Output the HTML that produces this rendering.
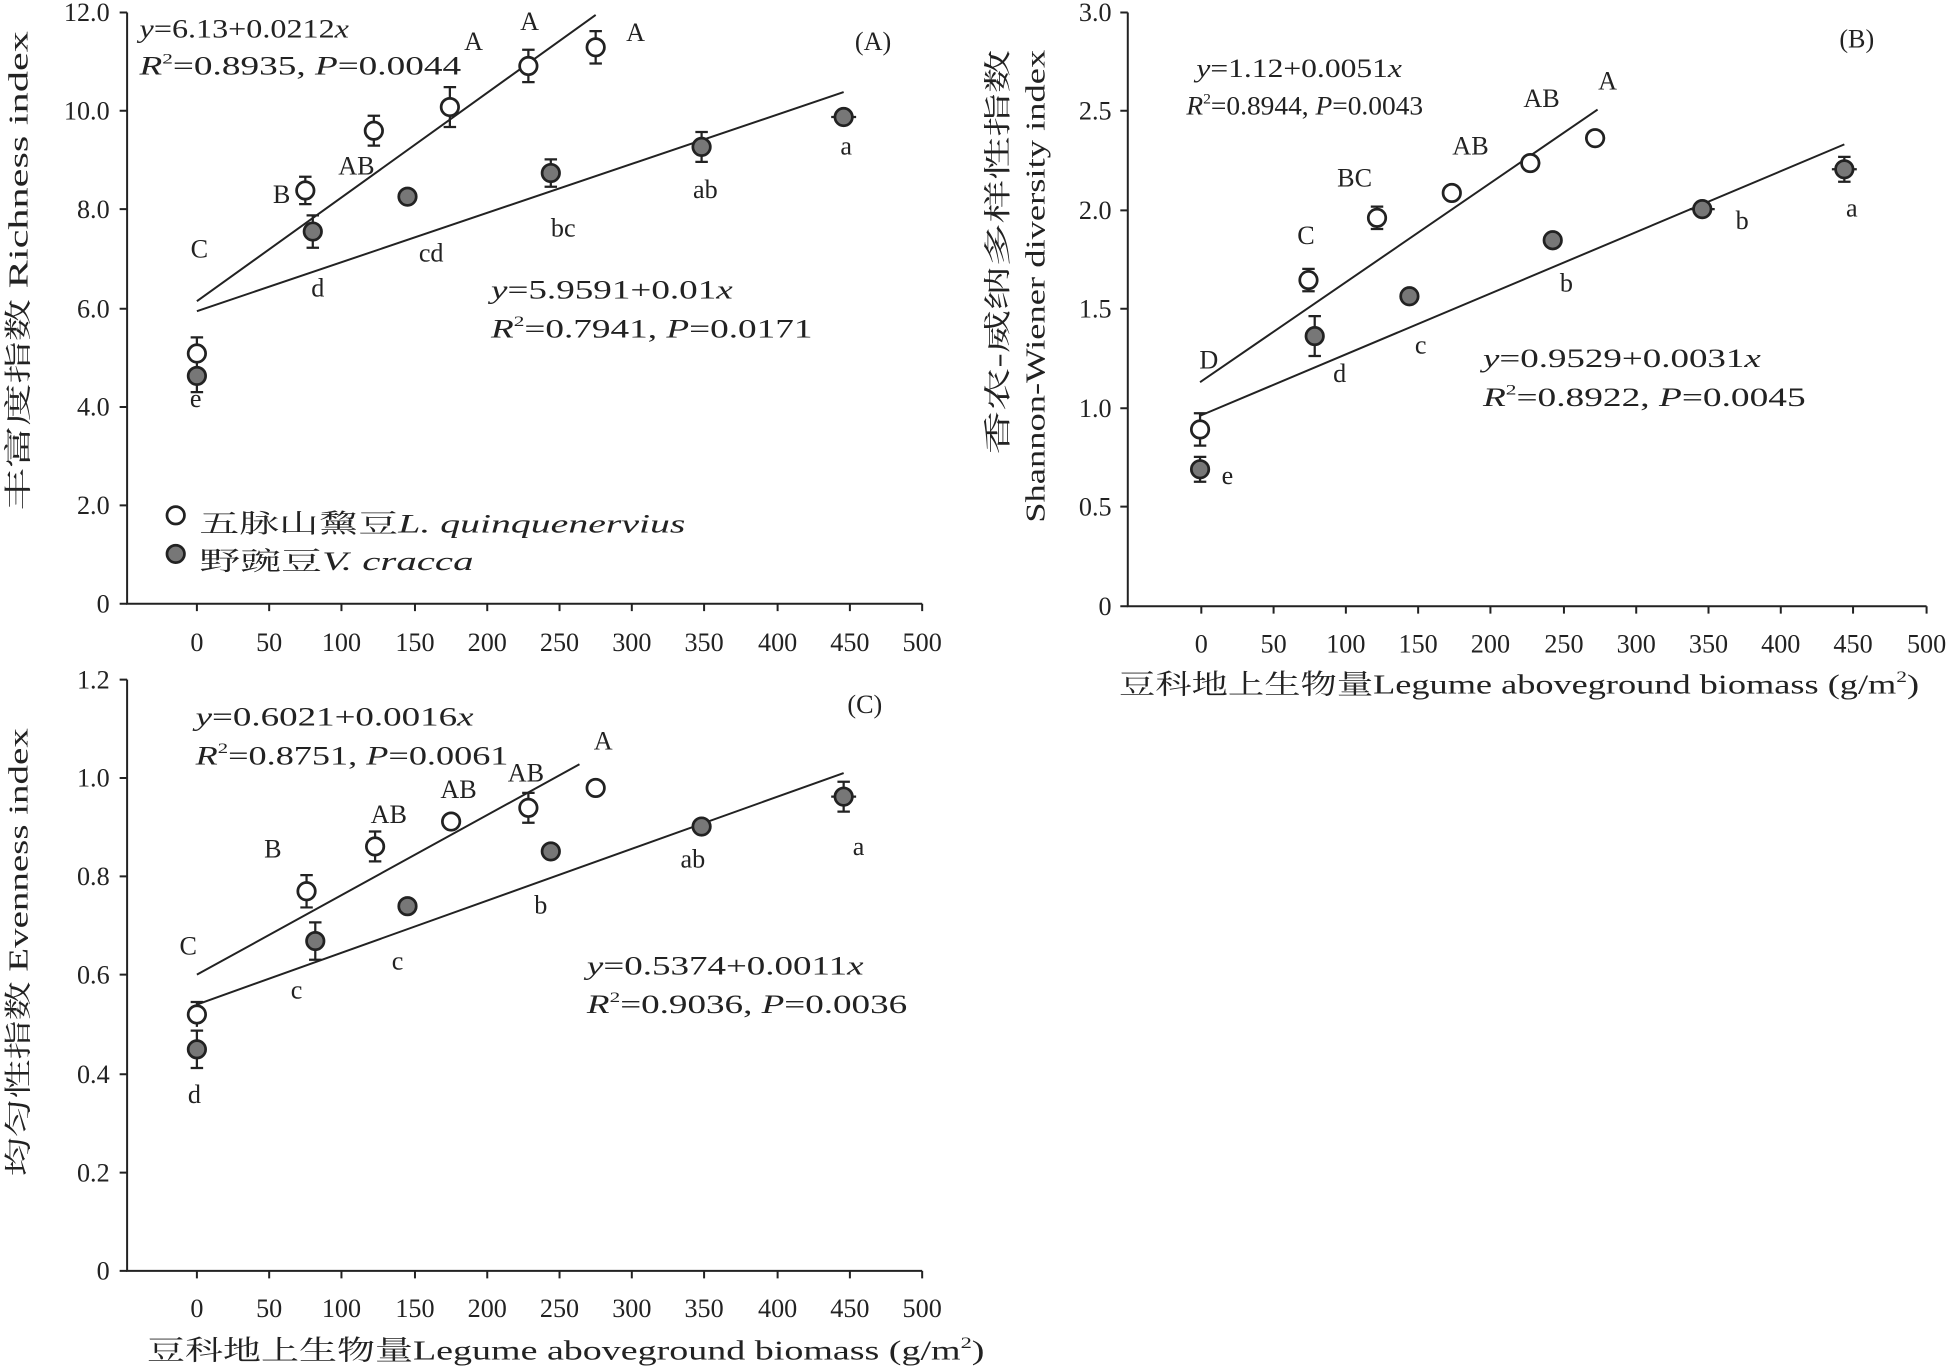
<!DOCTYPE html>
<html><head><meta charset="utf-8"><style>
html,body{margin:0;padding:0;background:#fff}
svg{display:block}
text{font-family:"Liberation Serif","Noto Serif CJK SC",serif;fill:#222}
</style></head><body>
<svg width="1954" height="1368" viewBox="0 0 1568 1099" preserveAspectRatio="none" xmlns="http://www.w3.org/2000/svg">
<defs>
<g id="o"><circle r="7" fill="#fff" stroke="#222" stroke-width="2.2"/></g>
<g id="f"><circle r="7" fill="#777" stroke="#222" stroke-width="2.2"/></g>
</defs>
<g stroke="#222" stroke-width="1.6" fill="none">
<path d="M102,10V485H740"/>
<path d="M96,10H102M96,89H102M96,168H102M96,248H102M96,327H102M96,406H102M96,485H102"/>
<path d="M158,485v6M216,485v6M274,485v6M333,485v6M391,485v6M449,485v6M507,485v6M565,485v6M624,485v6M682,485v6M740,485v6"/>
<path d="M905,10V487H1546"/>
<path d="M899,10H905M899,89H905M899,169H905M899,248H905M899,328H905M899,407H905M899,487H905"/>
<path d="M964,487v6M1022,487v6M1080,487v6M1138,487v6M1196,487v6M1255,487v6M1313,487v6M1371,487v6M1429,487v6M1487,487v6M1546,487v6"/>
<path d="M102,546V1021H740"/>
<path d="M96,546H102M96,625H102M96,704H102M96,783H102M96,863H102M96,942H102M96,1021H102"/>
<path d="M158,1021v6M216,1021v6M274,1021v6M333,1021v6M391,1021v6M449,1021v6M507,1021v6M565,1021v6M624,1021v6M682,1021v6M740,1021v6"/>
<path d="M158,242L478,12M158,250L677,74"/>
<path d="M963,307L1282,88M963,334L1480,116"/>
<path d="M158,783L465,614M158,807L677,621"/>
</g>
<g stroke="#222" stroke-width="1.8" fill="none">
<path d="M158,271v26M153,271h10M153,297h10 M245,142v22M240,142h10M240,164h10 M300,93v24M295,93h10M295,117h10 M361,70v32M356,70h10M356,102h10 M424,40v26M419,40h10M419,66h10 M478,25v26M473,25h10M473,51h10 M158,289v26M153,289h10M153,315h10 M251,173v26M246,173h10M246,199h10 M442,128v22M437,128h10M437,150h10 M563,106v24M558,106h10M558,130h10 M667,94h20"/>
<path d="M963,332v26M958,332h10M958,358h10 M1050,216v18M1045,216h10M1045,234h10 M1105,166v18M1100,166h10M1100,184h10 M1220,131h16 M1272,111h16 M963,367v20M958,367h10M958,387h10 M1055,254v32M1050,254h10M1050,286h10 M1356,168h20 M1480,126v20M1475,126h10M1475,146h10M1470,136h20"/>
<path d="M158,805v20M153,805h10 M246,703v26M241,703h10M241,729h10 M301,668v24M296,668h10M296,692h10 M424,637v24M419,637h10M419,661h10 M158,828v30M153,828h10M153,858h10 M253,741v30M248,741h10M248,771h10 M677,628v24M672,628h10M672,652h10M667,640h20"/>
</g>
<g>
<use href="#o" x="158" y="284"/><use href="#o" x="245" y="153"/><use href="#o" x="300" y="105"/><use href="#o" x="361" y="86"/><use href="#o" x="424" y="53"/><use href="#o" x="478" y="38"/>
<use href="#f" x="158" y="302"/><use href="#f" x="251" y="186"/><use href="#f" x="327" y="158"/><use href="#f" x="442" y="139"/><use href="#f" x="563" y="118"/><use href="#f" x="677" y="94"/>
<use href="#o" x="963" y="345"/><use href="#o" x="1050" y="225"/><use href="#o" x="1105" y="175"/><use href="#o" x="1165" y="155"/><use href="#o" x="1228" y="131"/><use href="#o" x="1280" y="111"/>
<use href="#f" x="963" y="377"/><use href="#f" x="1055" y="270"/><use href="#f" x="1131" y="238"/><use href="#f" x="1246" y="193"/><use href="#f" x="1366" y="168"/><use href="#f" x="1480" y="136"/>
<use href="#o" x="158" y="815"/><use href="#o" x="246" y="716"/><use href="#o" x="301" y="680"/><use href="#o" x="362" y="660"/><use href="#o" x="424" y="649"/><use href="#o" x="478" y="633"/>
<use href="#f" x="158" y="843"/><use href="#f" x="253" y="756"/><use href="#f" x="327" y="728"/><use href="#f" x="442" y="684"/><use href="#f" x="563" y="664"/><use href="#f" x="677" y="640"/>
<use href="#o" x="141" y="414"/><use href="#f" x="141" y="445"/>
</g>
<g font-size="21">
<g text-anchor="end"><text x="88" y="17">12.0</text><text x="88" y="96">10.0</text><text x="88" y="175">8.0</text><text x="88" y="255">6.0</text><text x="88" y="334">4.0</text><text x="88" y="413">2.0</text><text x="88" y="492">0</text></g>
<g text-anchor="middle"><text x="158" y="523">0</text><text x="216" y="523">50</text><text x="274" y="523">100</text><text x="333" y="523">150</text><text x="391" y="523">200</text><text x="449" y="523">250</text><text x="507" y="523">300</text><text x="565" y="523">350</text><text x="624" y="523">400</text><text x="682" y="523">450</text><text x="740" y="523">500</text></g>
<g text-anchor="end"><text x="892" y="17">3.0</text><text x="892" y="96">2.5</text><text x="892" y="176">2.0</text><text x="892" y="255">1.5</text><text x="892" y="335">1.0</text><text x="892" y="414">0.5</text><text x="892" y="494">0</text></g>
<g text-anchor="middle"><text x="964" y="524">0</text><text x="1022" y="524">50</text><text x="1080" y="524">100</text><text x="1138" y="524">150</text><text x="1196" y="524">200</text><text x="1255" y="524">250</text><text x="1313" y="524">300</text><text x="1371" y="524">350</text><text x="1429" y="524">400</text><text x="1487" y="524">450</text><text x="1546" y="524">500</text></g>
<g text-anchor="end"><text x="88" y="553">1.2</text><text x="88" y="632">1.0</text><text x="88" y="711">0.8</text><text x="88" y="790">0.6</text><text x="88" y="870">0.4</text><text x="88" y="949">0.2</text><text x="88" y="1028">0</text></g>
<g text-anchor="middle"><text x="158" y="1058">0</text><text x="216" y="1058">50</text><text x="274" y="1058">100</text><text x="333" y="1058">150</text><text x="391" y="1058">200</text><text x="449" y="1058">250</text><text x="507" y="1058">300</text><text x="565" y="1058">350</text><text x="624" y="1058">400</text><text x="682" y="1058">450</text><text x="740" y="1058">500</text></g>
</g>
<g font-size="22">
<text transform="translate(22,410) rotate(-90)" textLength="385" lengthAdjust="spacingAndGlyphs">丰富度指数 Richness index</text>
<text transform="translate(808,365) rotate(-90)" textLength="325" lengthAdjust="spacingAndGlyphs">香农-威纳多样性指数</text>
<text transform="translate(838,420) rotate(-90)" textLength="380" lengthAdjust="spacingAndGlyphs">Shannon-Wiener diversity index</text>
<text transform="translate(22,945) rotate(-90)" textLength="360" lengthAdjust="spacingAndGlyphs">均匀性指数 Evenness index</text>
<text x="898" y="557" textLength="642" lengthAdjust="spacingAndGlyphs">豆科地上生物量Legume aboveground biomass (g/m<tspan font-size="13" dy="-9">2</tspan><tspan dy="9">)</tspan></text>
<text x="118" y="1092" textLength="672" lengthAdjust="spacingAndGlyphs">豆科地上生物量Legume aboveground biomass (g/m<tspan font-size="13" dy="-9">2</tspan><tspan dy="9">)</tspan></text>
</g>
<g font-size="21">
<text x="686" y="40">(A)</text><text x="1476" y="38">(B)</text><text x="680" y="573">(C)</text>
<text x="112" y="30" textLength="168" lengthAdjust="spacingAndGlyphs"><tspan font-style="italic">y</tspan>=6.13+0.0212<tspan font-style="italic">x</tspan></text>
<text x="112" y="60" textLength="258" lengthAdjust="spacingAndGlyphs"><tspan font-style="italic">R</tspan><tspan font-size="12" dy="-9">2</tspan><tspan dy="9">=0.8935, </tspan><tspan font-style="italic">P</tspan>=0.0044</text>
<text x="394" y="240" textLength="194" lengthAdjust="spacingAndGlyphs"><tspan font-style="italic">y</tspan>=5.9591+0.01<tspan font-style="italic">x</tspan></text>
<text x="394" y="271" textLength="258" lengthAdjust="spacingAndGlyphs"><tspan font-style="italic">R</tspan><tspan font-size="12" dy="-9">2</tspan><tspan dy="9">=0.7941, </tspan><tspan font-style="italic">P</tspan>=0.0171</text>
<text x="960" y="62" textLength="165" lengthAdjust="spacingAndGlyphs"><tspan font-style="italic">y</tspan>=1.12+0.0051<tspan font-style="italic">x</tspan></text>
<text x="952" y="92" textLength="190" lengthAdjust="spacingAndGlyphs"><tspan font-style="italic">R</tspan><tspan font-size="12" dy="-9">2</tspan><tspan dy="9">=0.8944, </tspan><tspan font-style="italic">P</tspan>=0.0043</text>
<text x="1190" y="295" textLength="223" lengthAdjust="spacingAndGlyphs"><tspan font-style="italic">y</tspan>=0.9529+0.0031<tspan font-style="italic">x</tspan></text>
<text x="1190" y="326" textLength="259" lengthAdjust="spacingAndGlyphs"><tspan font-style="italic">R</tspan><tspan font-size="12" dy="-9">2</tspan><tspan dy="9">=0.8922, </tspan><tspan font-style="italic">P</tspan>=0.0045</text>
<text x="157" y="583" textLength="223" lengthAdjust="spacingAndGlyphs"><tspan font-style="italic">y</tspan>=0.6021+0.0016<tspan font-style="italic">x</tspan></text>
<text x="157" y="614" textLength="251" lengthAdjust="spacingAndGlyphs"><tspan font-style="italic">R</tspan><tspan font-size="12" dy="-9">2</tspan><tspan dy="9">=0.8751, </tspan><tspan font-style="italic">P</tspan>=0.0061</text>
<text x="471" y="783" textLength="222" lengthAdjust="spacingAndGlyphs"><tspan font-style="italic">y</tspan>=0.5374+0.0011<tspan font-style="italic">x</tspan></text>
<text x="471" y="814" textLength="257" lengthAdjust="spacingAndGlyphs"><tspan font-style="italic">R</tspan><tspan font-size="12" dy="-9">2</tspan><tspan dy="9">=0.9036, </tspan><tspan font-style="italic">P</tspan>=0.0036</text>
<text x="160" y="428" textLength="390" lengthAdjust="spacingAndGlyphs">五脉山黧豆<tspan font-style="italic">L. quinquenervius</tspan></text>
<text x="160" y="458" textLength="220" lengthAdjust="spacingAndGlyphs">野豌豆<tspan font-style="italic">V. cracca</tspan></text>
</g>
<g font-size="21" text-anchor="middle">
<text x="160" y="207">C</text><text x="226" y="163">B</text><text x="286" y="140">AB</text><text x="380" y="40">A</text><text x="425" y="24">A</text><text x="510" y="33">A</text>
<text x="157" y="327">e</text><text x="255" y="238">d</text><text x="346" y="210">cd</text><text x="452" y="190">bc</text><text x="566" y="159">ab</text><text x="679" y="124">a</text>
<text x="970" y="296">D</text><text x="1048" y="196">C</text><text x="1087" y="150">BC</text><text x="1180" y="124">AB</text><text x="1237" y="86">AB</text><text x="1290" y="72">A</text>
<text x="985" y="389">e</text><text x="1075" y="307">d</text><text x="1140" y="284">c</text><text x="1257" y="234">b</text><text x="1398" y="184">b</text><text x="1486" y="174">a</text>
<text x="151" y="767">C</text><text x="219" y="689">B</text><text x="312" y="661">AB</text><text x="368" y="641">AB</text><text x="422" y="628">AB</text><text x="484" y="602">A</text>
<text x="156" y="886">d</text><text x="238" y="802">c</text><text x="319" y="779">c</text><text x="434" y="734">b</text><text x="556" y="697">ab</text><text x="689" y="687">a</text>
</g>
</svg>
</body></html>
